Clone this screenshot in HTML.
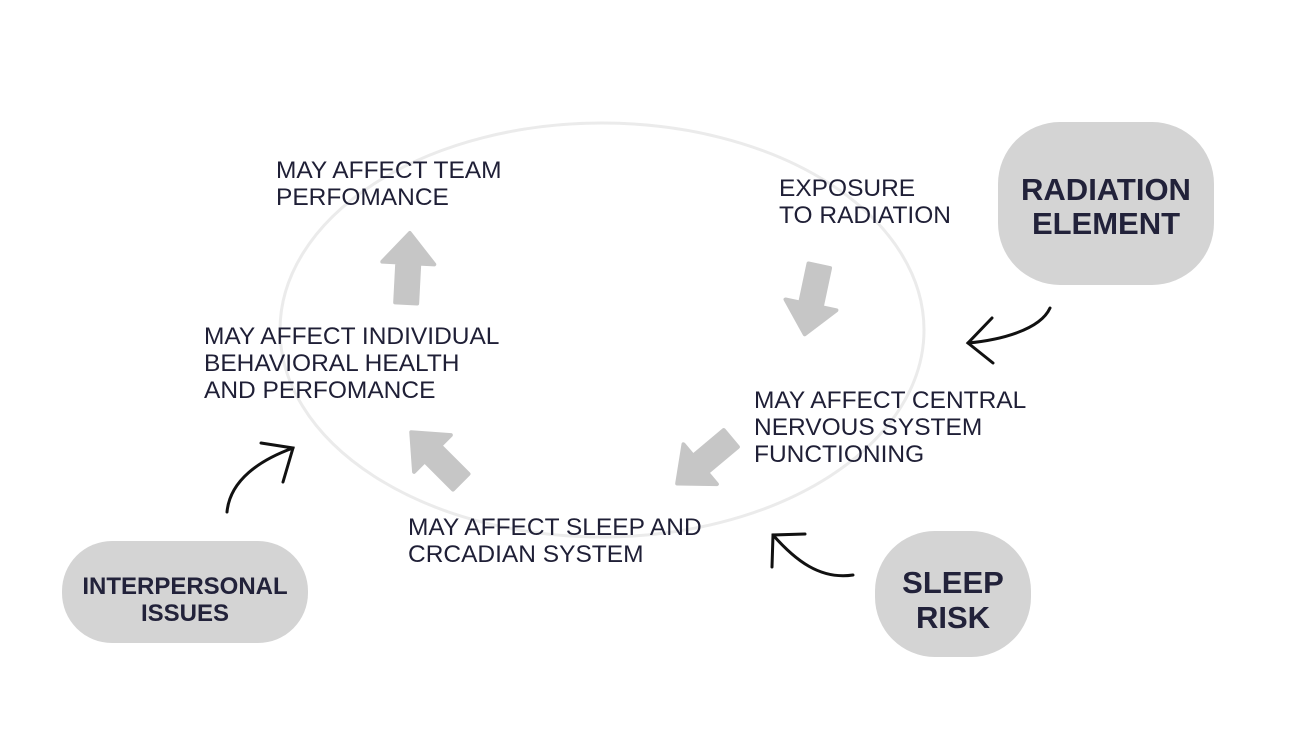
<!DOCTYPE html>
<html><head><meta charset="utf-8"><style>
html,body{margin:0;padding:0;background:#fff;}
svg{display:block;}
.t{font-family:"Liberation Sans",sans-serif;font-size:24.5px;fill:#1f1f36;}
.b{font-family:"Liberation Sans",sans-serif;font-weight:bold;fill:#22223a;text-anchor:middle;}
</style></head><body>
<svg width="1300" height="730" viewBox="0 0 1300 730" xmlns="http://www.w3.org/2000/svg">
<rect width="1300" height="730" fill="#fff"/>
<ellipse cx="602" cy="330" rx="322" ry="207" fill="none" stroke="#ebebeb" stroke-width="3"/>
<defs>
<path id="ar" d="M-11,35 L-11,-5 L-26,-5 L0,-35 L26,-5 L11,-5 L11,35 Z" fill="#c6c6c6" stroke="#c6c6c6" stroke-width="4" stroke-linejoin="round"/>
</defs>
<use href="#ar" transform="translate(408,268) rotate(3)"/>
<use href="#ar" transform="translate(812,300) rotate(192)"/>
<use href="#ar" transform="translate(704,461) rotate(230)"/>
<use href="#ar" transform="translate(436,457) rotate(-45)"/>

<text class="t" x="276" y="178">MAY AFFECT TEAM</text>
<text class="t" x="276" y="205">PERFOMANCE</text>
<text class="t" x="779" y="196">EXPOSURE</text>
<text class="t" x="779" y="223">TO RADIATION</text>
<text class="t" x="204" y="344">MAY AFFECT INDIVIDUAL</text>
<text class="t" x="204" y="371">BEHAVIORAL HEALTH</text>
<text class="t" x="204" y="398">AND PERFOMANCE</text>
<text class="t" x="754" y="408">MAY AFFECT CENTRAL</text>
<text class="t" x="754" y="435">NERVOUS SYSTEM</text>
<text class="t" x="754" y="462">FUNCTIONING</text>
<text class="t" x="408" y="535">MAY AFFECT SLEEP AND</text>
<text class="t" x="408" y="562">CRCADIAN SYSTEM</text>

<rect x="998" y="122" width="216" height="163" rx="62" fill="#d4d4d4"/>
<text class="b" x="1106" y="200" font-size="31">RADIATION</text>
<text class="b" x="1106" y="234" font-size="31">ELEMENT</text>
<rect x="875" y="531" width="156" height="126" rx="60" fill="#d4d4d4"/>
<text class="b" x="953" y="593" font-size="31">SLEEP</text>
<text class="b" x="953" y="628" font-size="31">RISK</text>
<rect x="62" y="541" width="246" height="102" rx="50" fill="#d4d4d4"/>
<text class="b" x="185" y="594" font-size="24">INTERPERSONAL</text>
<text class="b" x="185" y="621" font-size="24">ISSUES</text>

<g fill="none" stroke="#111" stroke-width="3" stroke-linecap="round">
<path d="M1050,308 C1040,330 1000,340 968,343"/>
<path d="M992,318 L968,343 L993,363"/>
<path d="M853,575 C820,580 795,560 773,535"/>
<path d="M772,567 L773,535 L805,534"/>
<path d="M227,512 C230,480 260,460 293,448"/>
<path d="M261,443 L293,448 L283,482"/>
</g>
</svg>
</body></html>
